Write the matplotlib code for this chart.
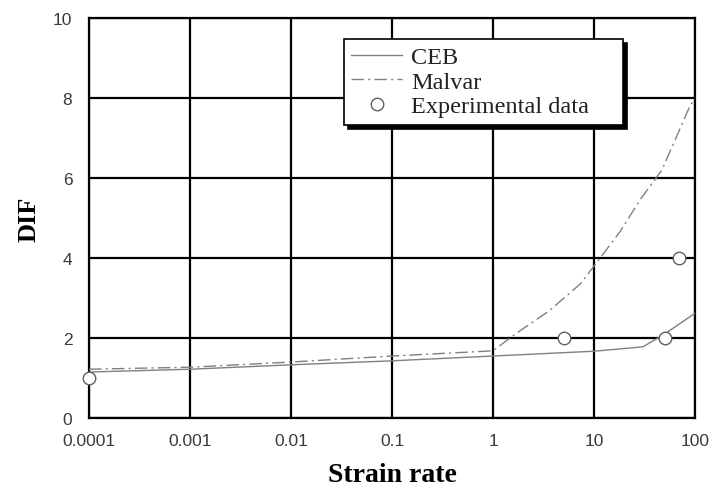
import matplotlib
matplotlib.use("Agg")
import matplotlib.pyplot as plt

# strain rate (1/s) and dynamic increase factor
ceb_rate = [1e-4, 1e-3, 1e-2, 0.1, 1, 10, 30.5, 50, 100]
ceb_dif = [1.15, 1.22, 1.33, 1.43, 1.55, 1.67, 1.78, 2.1, 2.62]

malvar_rate = [1e-4, 1e-3, 1e-2, 0.1, 1, 1.35, 1.73, 3.6, 7.3, 10, 18, 29, 47, 89, 100]
malvar_dif = [1.22, 1.27, 1.4, 1.55, 1.68, 1.93, 2.13, 2.68, 3.35, 3.8, 4.65, 5.48, 6.2, 7.8, 8.0]

exp_rate = [1e-4, 5, 50, 70]
exp_dif = [1.0, 2.0, 2.0, 4.0]

x_ticks = [1e-4, 1e-3, 1e-2, 0.1, 1, 10, 100]
x_labels = ["0.0001", "0.001", "0.01", "0.1", "1", "10", "100"]
y_ticks = [0, 2, 4, 6, 8, 10]

SERIF = "Liberation Serif"
SANS = "Liberation Sans"

fig = plt.figure(figsize=(7.1, 4.89), dpi=100)
ax = fig.add_axes([0.1254, 0.1431, 0.8535, 0.818])

ax.set_xscale("log")
ax.set_xlim(1e-4, 100)
ax.set_ylim(0, 10)

# data
ax.plot(ceb_rate, ceb_dif, color="#808080", lw=1.0, label="CEB", zorder=3)
ax.plot(malvar_rate, malvar_dif, color="#808080", lw=1.0, dashes=(9, 3, 1.5, 3),
        label="Malvar", zorder=3)
ax.plot(exp_rate, exp_dif, "o", ms=9, mfc="white", mec="#606060", mew=1.0,
        label="Experimental data", clip_on=False, zorder=4)

# grid and frame
ax.set_xticks(x_ticks)
ax.set_xticklabels(x_labels)
ax.set_yticks(y_ticks)
ax.set_yticklabels([str(v) for v in y_ticks])
ax.xaxis.set_minor_locator(matplotlib.ticker.NullLocator())
ax.grid(True, which="major", color="black", lw=1.6, zorder=1)
ax.set_axisbelow(True)
for s in ax.spines.values():
    s.set_linewidth(1.6)
ax.tick_params(length=0, labelsize=12.5, labelcolor="#3a3a3a")
ax.tick_params(axis="x", pad=11)
ax.tick_params(axis="y", pad=12)
for t in ax.get_xticklabels() + ax.get_yticklabels():
    t.set_family(SANS)

ax.set_xlabel("Strain rate", family=SERIF, fontsize=20, fontweight="bold", labelpad=10)
ax.set_ylabel("DIF", family=SERIF, fontsize=19, fontweight="bold", labelpad=9)

leg = ax.legend(loc="upper left", bbox_to_anchor=(0.421, 0.7275, 0.46, 0.22),
                mode="expand", borderaxespad=0, fancybox=False,
                shadow={"color": "black", "alpha": 1, "ox": 3, "oy": -3},
                prop={"family": SERIF, "size": 17.5}, labelspacing=0.1,
                handlelength=2.1, handletextpad=0.35, borderpad=0.3,
                framealpha=1)
leg.get_frame().set_edgecolor("black")
leg.get_frame().set_linewidth(1.2)
for t in leg.get_texts():
    t.set_color("#222222")

fig.savefig("out.png", dpi=100)
